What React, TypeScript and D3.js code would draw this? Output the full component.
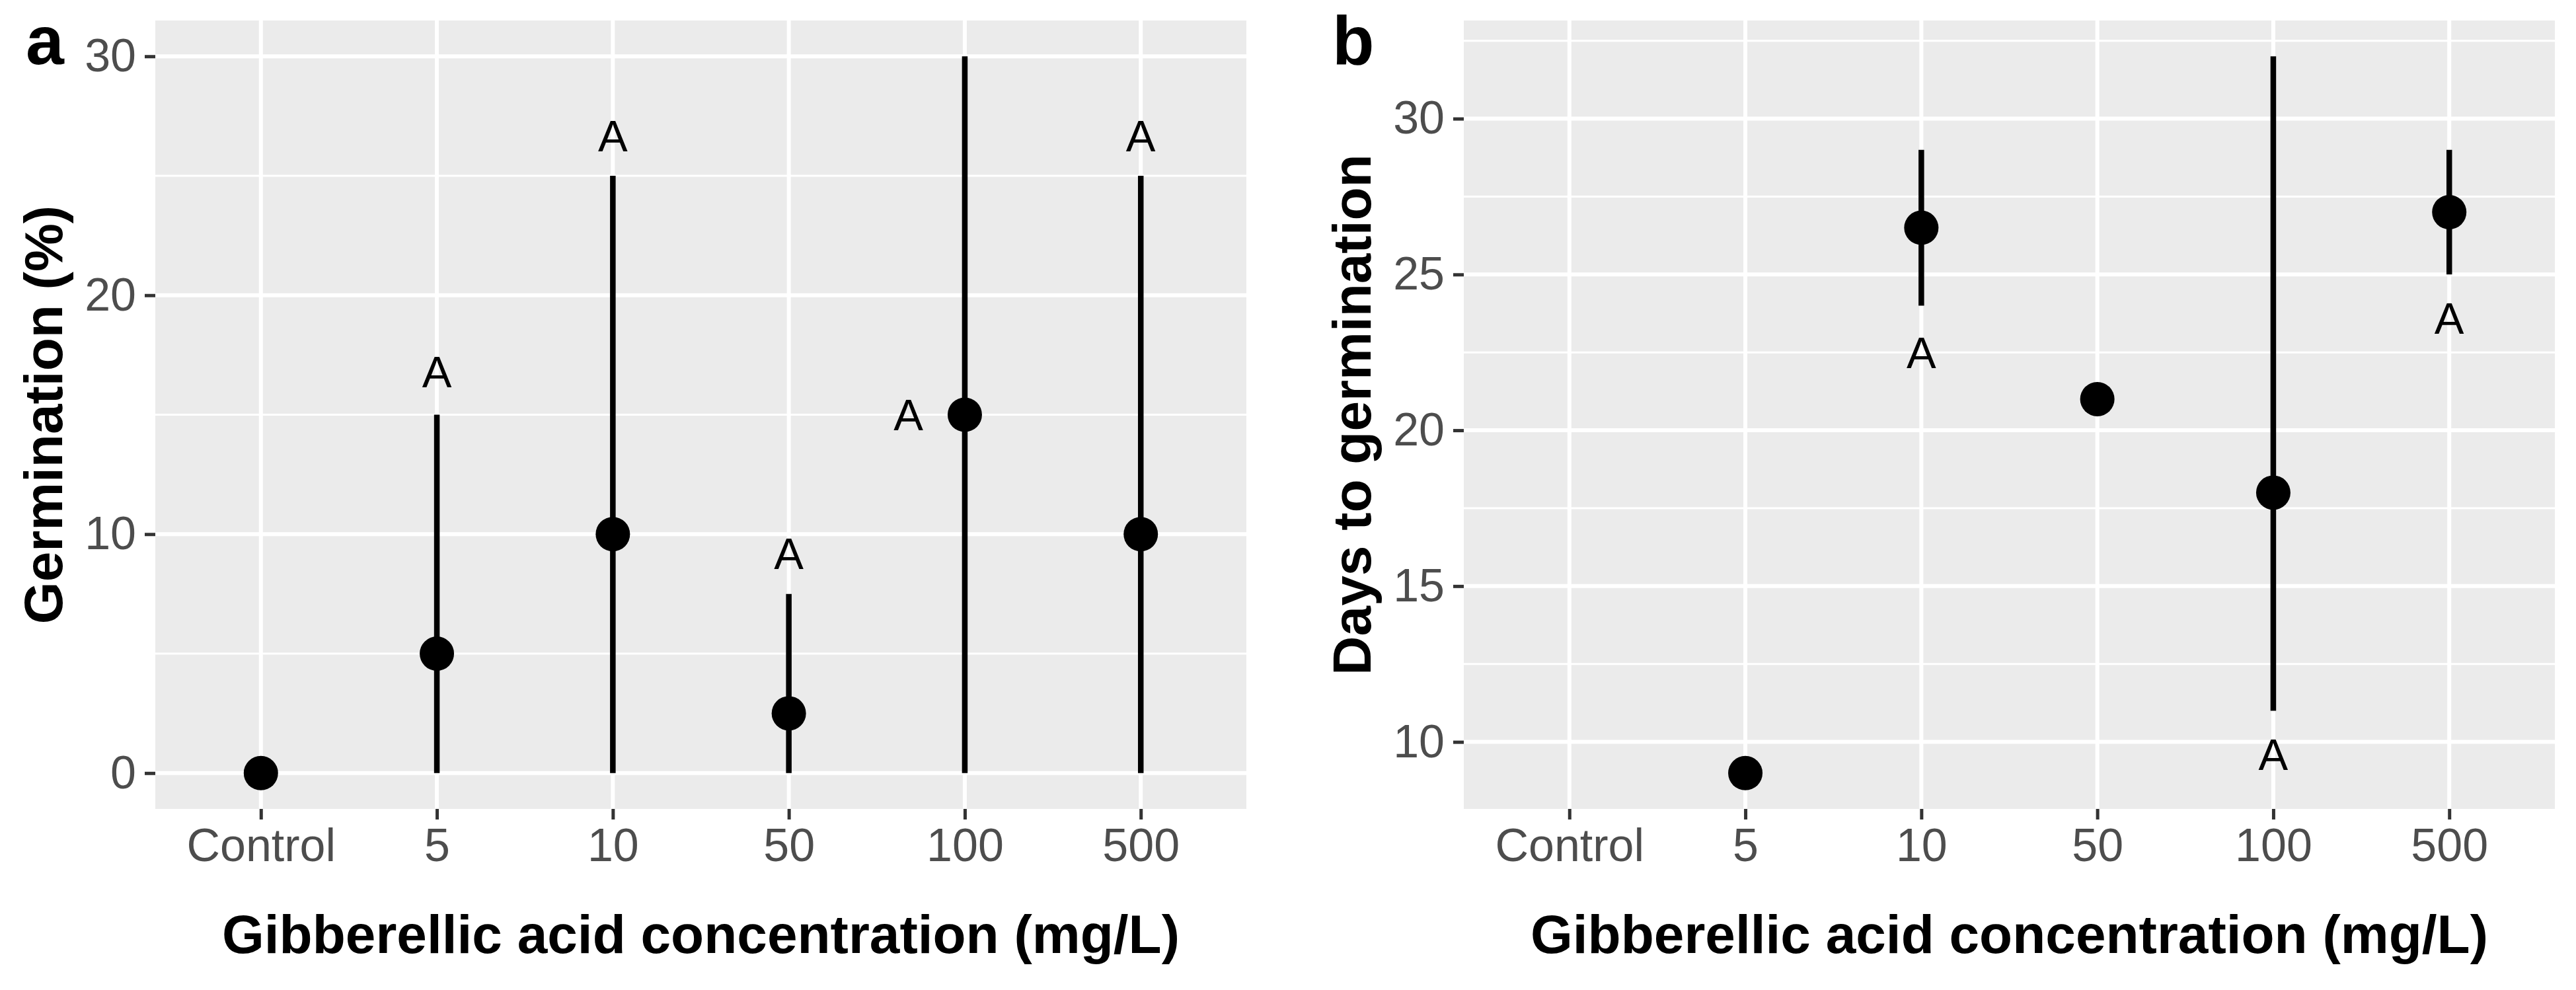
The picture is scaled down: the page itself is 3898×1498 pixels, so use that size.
import React, { useEffect, useRef } from 'react';
import * as d3 from 'd3';

const categories = ['Control', '5', '10', '50', '100', '500'];

// panel a - germination (%)
const germMean: (number | null)[] = [0, 5, 10, 2.5, 15, 10];
const germLower: (number | null)[] = [null, 0, 0, 0, 0, 0];
const germUpper: (number | null)[] = [null, 15, 25, 7.5, 30, 25];
const germLetters = ['', 'A', 'A', 'A', 'A', 'A'];
const germLetterY: (number | null)[] = [null, 16.8, 26.7, 9.2, 15, 26.7];
const germLetterShift = [0, 0, 0, 0, -0.32, 0];
const germTicks = [0, 10, 20, 30];

// panel b - days to germination
const daysMean: (number | null)[] = [null, 9, 26.5, 21, 18, 27];
const daysLower: (number | null)[] = [null, null, 24, null, 11, 25];
const daysUpper: (number | null)[] = [null, null, 29, null, 32, 29];
const daysLetters = ['', '', 'A', '', 'A', 'A'];
const daysLetterY: (number | null)[] = [null, null, 22.5, null, 9.6, 23.6];
const daysLetterShift = [0, 0, 0, 0, 0, 0];
const daysTicks = [10, 15, 20, 25, 30];

const W = 3898;
const H = 1498;
const TOP = 31;
const BOTTOM = 1224;
const FONT = '"Liberation Sans", Arial, sans-serif';

interface PanelOpts {
  left: number;
  right: number;
  tag: string;
  tagX: number;
  yTitle: string;
  yTitleX: number;
  mean: (number | null)[];
  lower: (number | null)[];
  upper: (number | null)[];
  letters: string[];
  letterY: (number | null)[];
  shift: number[];
  ticks: number[];
}

const drawPanel = (svg: d3.Selection<SVGSVGElement, unknown, null, undefined>, o: PanelOpts) => {
  const x = d3.scalePoint<string>().domain(categories).range([o.left, o.right]).padding(0.6);

  // ggplot style 5% expansion of the data range
  const vals = [...o.mean, ...o.lower, ...o.upper].filter((v) => v != null) as number[];
  const [lo, hi] = d3.extent(vals) as [number, number];
  const pad = (hi - lo) * 0.05;
  const y = d3.scaleLinear().domain([lo - pad, hi + pad]).range([BOTTOM, TOP]);
  const [d0, d1] = y.domain();

  const g = svg.append('g');

  g.append('rect')
    .attr('x', o.left)
    .attr('y', TOP)
    .attr('width', o.right - o.left)
    .attr('height', BOTTOM - TOP)
    .attr('fill', '#EBEBEB');

  // minor grid lines between the major breaks
  const step = o.ticks[1] - o.ticks[0];
  const minors = d3
    .range(o.ticks[0] - step / 2, o.ticks[o.ticks.length - 1] + step, step)
    .filter((v) => v >= d0 && v <= d1);

  g.selectAll('.minor')
    .data(minors)
    .enter()
    .append('line')
    .attr('x1', o.left)
    .attr('x2', o.right)
    .attr('y1', (d) => y(d))
    .attr('y2', (d) => y(d))
    .attr('stroke', '#fff')
    .attr('stroke-width', 3);

  g.selectAll('.hmajor')
    .data(o.ticks)
    .enter()
    .append('line')
    .attr('x1', o.left)
    .attr('x2', o.right)
    .attr('y1', (d) => y(d))
    .attr('y2', (d) => y(d))
    .attr('stroke', '#fff')
    .attr('stroke-width', 6);

  g.selectAll('.vmajor')
    .data(categories)
    .enter()
    .append('line')
    .attr('x1', (d) => x(d)!)
    .attr('x2', (d) => x(d)!)
    .attr('y1', TOP)
    .attr('y2', BOTTOM)
    .attr('stroke', '#fff')
    .attr('stroke-width', 6);

  // axes
  const styleAxis = (a: d3.Selection<SVGGElement, unknown, null, undefined>) => {
    a.select('.domain').remove();
    a.selectAll('.tick line').attr('stroke', '#333333').attr('stroke-width', 5);
    a.selectAll('.tick text')
      .attr('fill', '#4D4D4D')
      .attr('font-size', 70)
      .attr('font-family', FONT);
  };

  g.append('g')
    .attr('transform', `translate(${o.left},0)`)
    .call(d3.axisLeft(y).tickValues(o.ticks).tickSize(16).tickPadding(13))
    .call(styleAxis);

  g.append('g')
    .attr('transform', `translate(0,${BOTTOM})`)
    .call(d3.axisBottom(x).tickSize(16).tickPadding(13))
    .call(styleAxis);

  // error bars
  const idx = d3.range(categories.length);
  g.selectAll('.bar')
    .data(idx.filter((i) => o.lower[i] != null && o.upper[i] != null))
    .enter()
    .append('line')
    .attr('x1', (i) => x(categories[i])!)
    .attr('x2', (i) => x(categories[i])!)
    .attr('y1', (i) => y(o.lower[i] as number))
    .attr('y2', (i) => y(o.upper[i] as number))
    .attr('stroke', '#000')
    .attr('stroke-width', 8.5);

  // means
  g.selectAll('.pt')
    .data(idx.filter((i) => o.mean[i] != null))
    .enter()
    .append('circle')
    .attr('cx', (i) => x(categories[i])!)
    .attr('cy', (i) => y(o.mean[i] as number))
    .attr('r', 26)
    .attr('fill', '#000');

  // significance letters
  g.selectAll('.letter')
    .data(idx.filter((i) => o.letters[i] !== '' && o.letterY[i] != null))
    .enter()
    .append('text')
    .attr('x', (i) => x(categories[i])! + o.shift[i] * x.step())
    .attr('y', (i) => y(o.letterY[i] as number))
    .attr('dy', '0.358em')
    .attr('text-anchor', 'middle')
    .attr('font-family', FONT)
    .attr('font-size', 67)
    .attr('fill', '#000')
    .text((i) => o.letters[i]);

  // titles
  g.append('text')
    .attr('x', (o.left + o.right) / 2)
    .attr('y', 1442)
    .attr('text-anchor', 'middle')
    .attr('font-family', FONT)
    .attr('font-weight', 'bold')
    .attr('font-size', 82)
    .attr('fill', '#000')
    .text('Gibberellic acid concentration (mg/L)');

  g.append('text')
    .attr('transform', `translate(${o.yTitleX},${(TOP + BOTTOM) / 2}) rotate(-90)`)
    .attr('text-anchor', 'middle')
    .attr('font-family', FONT)
    .attr('font-weight', 'bold')
    .attr('font-size', 82)
    .attr('fill', '#000')
    .text(o.yTitle);

  g.append('text')
    .attr('x', o.tagX)
    .attr('y', 97)
    .attr('font-family', FONT)
    .attr('font-weight', 'bold')
    .attr('font-size', 104)
    .attr('fill', '#000')
    .text(o.tag);
};

const App: React.FC = () => {
  const ref = useRef<SVGSVGElement>(null);

  useEffect(() => {
    if (!ref.current) return;
    const svg = d3.select(ref.current);
    svg.selectAll('*').remove();

    svg.append('rect').attr('width', W).attr('height', H).attr('fill', '#fff');

    drawPanel(svg, {
      left: 235,
      right: 1886,
      tag: 'a',
      tagX: 39,
      yTitle: 'Germination (%)',
      yTitleX: 94,
      mean: germMean,
      lower: germLower,
      upper: germUpper,
      letters: germLetters,
      letterY: germLetterY,
      shift: germLetterShift,
      ticks: germTicks,
    });

    drawPanel(svg, {
      left: 2215,
      right: 3866,
      tag: 'b',
      tagX: 2016,
      yTitle: 'Days to germination',
      yTitleX: 2074,
      mean: daysMean,
      lower: daysLower,
      upper: daysUpper,
      letters: daysLetters,
      letterY: daysLetterY,
      shift: daysLetterShift,
      ticks: daysTicks,
    });
  }, []);

  return (
    <svg
      ref={ref}
      width={W}
      height={H}
      style={{ position: 'absolute', left: 0, top: 0, display: 'block' }}
    ></svg>
  );
};

export default App;
